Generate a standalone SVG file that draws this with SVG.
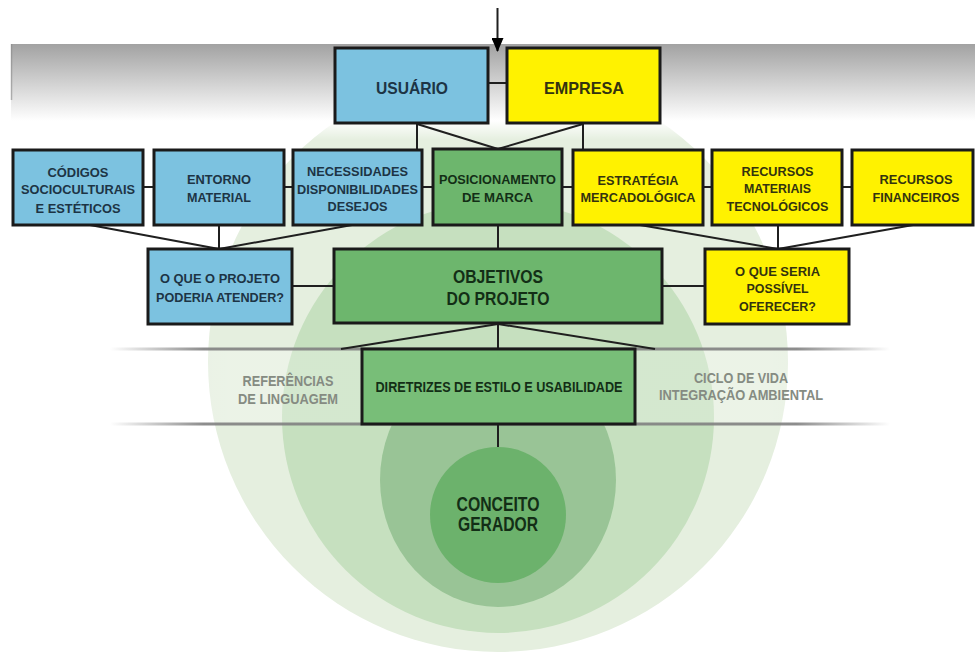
<svg xmlns="http://www.w3.org/2000/svg" width="975" height="655" viewBox="0 0 975 655">
  <defs>
    <linearGradient id="topGrad" x1="0" y1="0" x2="0" y2="1">
      <stop offset="0" stop-color="#a2a2a2" stop-opacity="1"/>
      <stop offset="0.8" stop-color="#ffffff" stop-opacity="1"/>
      <stop offset="1" stop-color="#ffffff" stop-opacity="0"/>
    </linearGradient>
    <linearGradient id="bandLine" x1="0" y1="0" x2="1" y2="0">
      <stop offset="0" stop-color="#808080" stop-opacity="0"/>
      <stop offset="0.12" stop-color="#808080" stop-opacity="0.9"/>
      <stop offset="0.88" stop-color="#808080" stop-opacity="0.9"/>
      <stop offset="1" stop-color="#808080" stop-opacity="0"/>
    </linearGradient>
    <linearGradient id="bandFill" x1="0" y1="0" x2="1" y2="0">
      <stop offset="0" stop-color="#ffffff" stop-opacity="0"/>
      <stop offset="0.15" stop-color="#ffffff" stop-opacity="0.25"/>
      <stop offset="0.85" stop-color="#ffffff" stop-opacity="0.25"/>
      <stop offset="1" stop-color="#ffffff" stop-opacity="0"/>
    </linearGradient>
    <marker id="arrow" viewBox="0 0 14 12" refX="13" refY="6" markerWidth="14" markerHeight="12" markerUnits="userSpaceOnUse" orient="auto">
      <path d="M0,0 L14,6 L0,12 Z" fill="#000"/>
    </marker>
  </defs>
  <style>
    .box { stroke: #1a1a1a; stroke-width: 3; }
    .blue { fill: #7cc2e0; }
    .yellow { fill: #fff200; }
    .green { fill: #6db66d; }
    .green2 { fill: #78be78; }
    text { font-family: "Liberation Sans", Arial, sans-serif; font-weight: bold; text-anchor: middle; }
    .s { font-size: 13px; }
    .tb { fill: #1d3445; }
    .ty { fill: #33330f; }
    .tg { fill: #132e16; }
    .tgr { fill: #858b82; font-size: 14px; }
    .conn line { stroke: #1f1f1f; stroke-width: 2; fill: none; }
  </style>

  <!-- background -->
  <rect x="0" y="0" width="975" height="655" fill="#ffffff"/>
  <g id="bg-circles">
    <circle cx="498" cy="362" r="290" fill="#e5efdf"/>
    <circle cx="498" cy="417" r="216" fill="#c6e0bf"/>
    <ellipse cx="498" cy="480" rx="118" ry="127" fill="#99c496"/>
  </g>
  <rect x="11" y="44" width="964" height="96" fill="url(#topGrad)"/>
  <line x1="11.5" y1="44" x2="11.5" y2="100" stroke="#8a8a8a" stroke-width="1.5" opacity="0.6"/>
  <rect x="110" y="349" width="780" height="75" fill="url(#bandFill)"/>
  <rect x="110" y="347.5" width="780" height="3" fill="url(#bandLine)"/>
  <rect x="110" y="422.5" width="780" height="3" fill="url(#bandLine)"/>

  <!-- connectors -->
  <g class="conn" id="connectors">
    <line x1="497.5" y1="8" x2="497.5" y2="51" marker-end="url(#arrow)"/>
    <line x1="488" y1="83" x2="507" y2="83"/>
    <line x1="417" y1="123" x2="417" y2="149"/>
    <line x1="583" y1="123" x2="583" y2="149"/>
    <line x1="417" y1="124" x2="498" y2="149"/>
    <line x1="583" y1="124" x2="498" y2="149"/>
    <line x1="143" y1="187" x2="154" y2="187"/>
    <line x1="284" y1="187" x2="293" y2="187"/>
    <line x1="422" y1="187" x2="433" y2="187"/>
    <line x1="562" y1="187" x2="573" y2="187"/>
    <line x1="703" y1="187" x2="712" y2="187"/>
    <line x1="842" y1="187" x2="852" y2="187"/>
    <line x1="90" y1="225" x2="219" y2="249"/>
    <line x1="219" y1="225" x2="219" y2="249"/>
    <line x1="352" y1="225" x2="219" y2="249"/>
    <line x1="640" y1="225" x2="778" y2="249"/>
    <line x1="778" y1="225" x2="778" y2="249"/>
    <line x1="913" y1="225" x2="778" y2="249"/>
    <line x1="498" y1="225" x2="498" y2="249"/>
    <line x1="292" y1="286" x2="334" y2="286"/>
    <line x1="662" y1="286" x2="705" y2="286"/>
    <line x1="498" y1="323" x2="498" y2="349"/>
    <line x1="498" y1="324" x2="341" y2="349"/>
    <line x1="498" y1="324" x2="655" y2="349"/>
    <line x1="498" y1="424" x2="498" y2="448"/>
  </g>

  <!-- nodes -->
  <g id="usuario">
    <rect class="box blue" x="335" y="48" width="153" height="75"/>
    <text class="tb" x="412" y="93.5" font-size="16.5" textLength="72" lengthAdjust="spacingAndGlyphs">USUÁRIO</text>
  </g>
  <g id="empresa">
    <rect class="box yellow" x="507" y="48" width="153" height="75"/>
    <text class="ty" x="584" y="93.5" font-size="16.5" textLength="80" lengthAdjust="spacingAndGlyphs">EMPRESA</text>
  </g>

  <g id="codigos">
    <rect class="box blue" x="13" y="150" width="130" height="75"/>
    <text class="s tb" x="78" y="176.5" textLength="61" lengthAdjust="spacingAndGlyphs">CÓDIGOS</text>
    <text class="s tb" x="78" y="194" textLength="114" lengthAdjust="spacingAndGlyphs">SOCIOCULTURAIS</text>
    <text class="s tb" x="78" y="212.5" textLength="85" lengthAdjust="spacingAndGlyphs">E ESTÉTICOS</text>
  </g>
  <g id="entorno">
    <rect class="box blue" x="154" y="150" width="130" height="75"/>
    <text class="s tb" x="219" y="184" textLength="64" lengthAdjust="spacingAndGlyphs">ENTORNO</text>
    <text class="s tb" x="219" y="202" textLength="64" lengthAdjust="spacingAndGlyphs">MATERIAL</text>
  </g>
  <g id="necessidades">
    <rect class="box blue" x="293" y="150" width="129" height="75"/>
    <text class="s tb" x="357.5" y="175.5" textLength="101" lengthAdjust="spacingAndGlyphs">NECESSIDADES</text>
    <text class="s tb" x="357.5" y="194" textLength="121" lengthAdjust="spacingAndGlyphs">DISPONIBILIDADES</text>
    <text class="s tb" x="357.5" y="211" textLength="60" lengthAdjust="spacingAndGlyphs">DESEJOS</text>
  </g>
  <g id="posicionamento">
    <rect class="box green" x="433" y="149" width="129" height="76"/>
    <text class="s tg" x="497.5" y="184" textLength="117" lengthAdjust="spacingAndGlyphs">POSICIONAMENTO</text>
    <text class="s tg" x="497.5" y="201.5" textLength="71" lengthAdjust="spacingAndGlyphs">DE MARCA</text>
  </g>
  <g id="estrategia">
    <rect class="box yellow" x="573" y="150" width="130" height="75"/>
    <text class="s ty" x="638" y="184.5" textLength="81" lengthAdjust="spacingAndGlyphs">ESTRATÉGIA</text>
    <text class="s ty" x="638" y="202" textLength="115" lengthAdjust="spacingAndGlyphs">MERCADOLÓGICA</text>
  </g>
  <g id="recursos-materiais">
    <rect class="box yellow" x="712" y="150" width="130" height="75"/>
    <text class="s ty" x="777.5" y="175.5" textLength="72" lengthAdjust="spacingAndGlyphs">RECURSOS</text>
    <text class="s ty" x="777.5" y="193" textLength="67" lengthAdjust="spacingAndGlyphs">MATERIAIS</text>
    <text class="s ty" x="777.5" y="211" textLength="102" lengthAdjust="spacingAndGlyphs">TECNOLÓGICOS</text>
  </g>
  <g id="recursos-financeiros">
    <rect class="box yellow" x="852" y="150" width="121" height="75"/>
    <text class="s ty" x="916" y="184" textLength="73" lengthAdjust="spacingAndGlyphs">RECURSOS</text>
    <text class="s ty" x="916" y="201.5" textLength="87" lengthAdjust="spacingAndGlyphs">FINANCEIROS</text>
  </g>

  <g id="o-que-projeto">
    <rect class="box blue" x="148" y="249" width="144" height="75"/>
    <text class="s tb" x="220" y="283" textLength="120" lengthAdjust="spacingAndGlyphs">O QUE O PROJETO</text>
    <text class="s tb" x="220" y="301.5" textLength="128" lengthAdjust="spacingAndGlyphs">PODERIA ATENDER?</text>
  </g>
  <g id="objetivos">
    <rect class="box green" x="334" y="249" width="328" height="74"/>
    <text class="tg" x="498" y="283" font-size="18" textLength="90" lengthAdjust="spacingAndGlyphs">OBJETIVOS</text>
    <text class="tg" x="498" y="305" font-size="18" textLength="103" lengthAdjust="spacingAndGlyphs">DO PROJETO</text>
  </g>
  <g id="o-que-seria">
    <rect class="box yellow" x="705" y="249" width="144" height="75"/>
    <text class="s ty" x="777.5" y="275.5" textLength="85" lengthAdjust="spacingAndGlyphs">O QUE SERIA</text>
    <text class="s ty" x="777.5" y="293" textLength="62" lengthAdjust="spacingAndGlyphs">POSSÍVEL</text>
    <text class="s ty" x="777.5" y="310.5" textLength="77" lengthAdjust="spacingAndGlyphs">OFERECER?</text>
  </g>

  <g id="referencias">
    <text class="tgr" x="288" y="386" textLength="91" lengthAdjust="spacingAndGlyphs">REFERÊNCIAS</text>
    <text class="tgr" x="288" y="403.5" textLength="100" lengthAdjust="spacingAndGlyphs">DE LINGUAGEM</text>
  </g>
  <g id="diretrizes">
    <rect class="box green2" x="362" y="349" width="273" height="75"/>
    <text class="tg" x="499" y="392" font-size="14" textLength="247" lengthAdjust="spacingAndGlyphs">DIRETRIZES DE ESTILO E USABILIDADE</text>
  </g>
  <g id="ciclo">
    <text class="tgr" x="741" y="382.5" textLength="94" lengthAdjust="spacingAndGlyphs">CICLO DE VIDA</text>
    <text class="tgr" x="741" y="400" textLength="164" lengthAdjust="spacingAndGlyphs">INTEGRAÇÃO AMBIENTAL</text>
  </g>

  <g id="conceito">
    <circle cx="498" cy="515" r="68" fill="#6cb26c"/>
    <text class="tg" x="498" y="511" font-size="19.5" textLength="83" lengthAdjust="spacingAndGlyphs">CONCEITO</text>
    <text class="tg" x="498" y="531" font-size="19.5" textLength="80" lengthAdjust="spacingAndGlyphs">GERADOR</text>
  </g>
</svg>
